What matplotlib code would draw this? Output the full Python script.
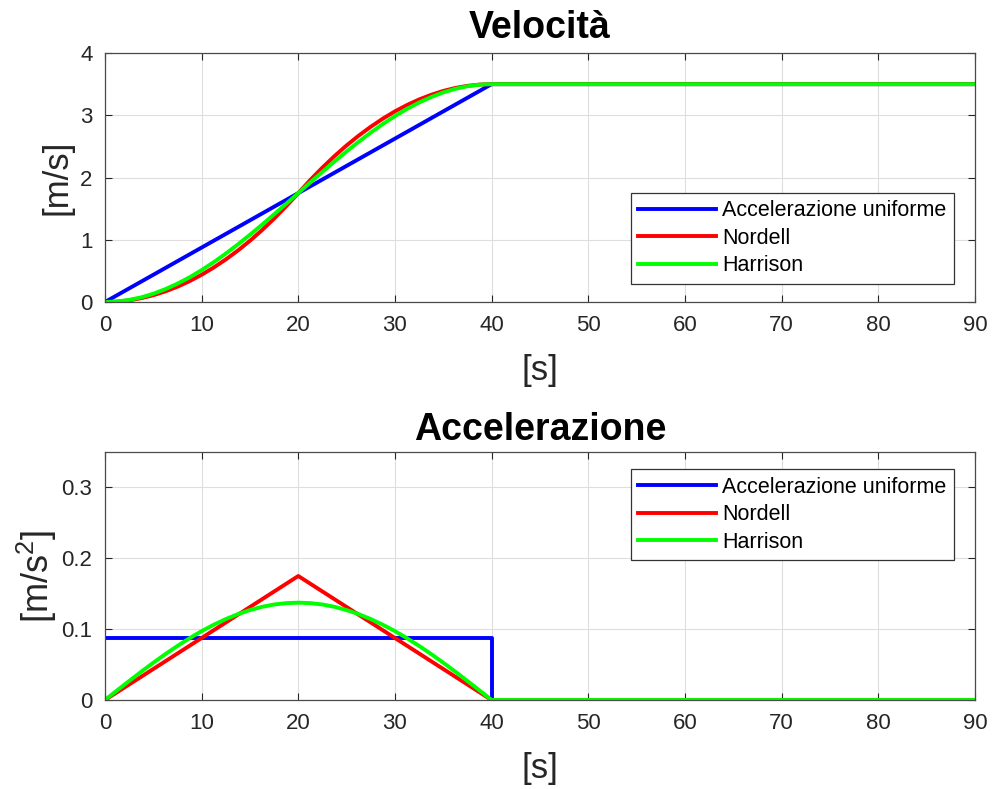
"""Velocità e accelerazione: accelerazione uniforme, Nordell, Harrison"""

import matplotlib.pyplot as plt

plt.rcParams['font.family'] = ['Liberation Sans', 'DejaVu Sans']
plt.rcParams['mathtext.fontset'] = 'custom'
plt.rcParams['mathtext.rm'] = 'Liberation Sans'
plt.rcParams['mathtext.it'] = 'Liberation Sans'

# tempi [s] (campionati sul grafico ogni 1.25 s fino a 40, poi costante)
t_curve = [0, 1.25, 2.5, 3.75, 5, 6.25, 7.5, 8.75, 10, 11.25, 12.5, 13.75,
           15, 16.25, 17.5, 18.75, 20, 21.25, 22.5, 23.75, 25, 26.25, 27.5,
           28.75, 30, 31.25, 32.5, 33.75, 35, 36.25, 37.5, 38.75, 40, 90]

# velocità [m/s]
t_unif_v = [0, 40, 90]
v_unif = [0, 3.5, 3.5]
v_nordell = [0, 0.007, 0.027, 0.062, 0.109, 0.171, 0.246, 0.335, 0.438,
             0.554, 0.684, 0.827, 0.984, 1.155, 1.340, 1.538, 1.75,
             1.962, 2.160, 2.345, 2.516, 2.673, 2.816, 2.946, 3.063,
             3.165, 3.254, 3.329, 3.391, 3.439, 3.473, 3.493, 3.5, 3.5]
v_harrison = [0, 0.008, 0.034, 0.075, 0.133, 0.207, 0.295, 0.397, 0.513,
              0.640, 0.778, 0.925, 1.080, 1.242, 1.409, 1.579, 1.75,
              1.922, 2.091, 2.258, 2.420, 2.575, 2.722, 2.860, 2.987,
              3.103, 3.205, 3.293, 3.367, 3.425, 3.466, 3.492, 3.5, 3.5]

# accelerazione [m/s^2]
t_unif_a = [0, 40, 40, 90]
a_unif = [0.0875, 0.0875, 0, 0]
t_nordell_a = [0, 20, 40, 90]
a_nordell = [0, 0.175, 0, 0]
a_harrison = [0, 0.0135, 0.0268, 0.0399, 0.0526, 0.0648, 0.0763, 0.0872,
              0.0972, 0.1062, 0.1142, 0.1212, 0.1269, 0.1315, 0.1348,
              0.1367, 0.1374, 0.1367, 0.1348, 0.1315, 0.1269, 0.1212,
              0.1142, 0.1062, 0.0972, 0.0872, 0.0763, 0.0648, 0.0526,
              0.0399, 0.0268, 0.0135, 0, 0]

legenda = ['Accelerazione uniforme', 'Nordell', 'Harrison']
x_ticks = list(range(0, 91, 10))

AX_COL = '#262626'
LW = 2.8


def stile_assi(ax):
    ax.set_xlim(0, 90)
    ax.set_xticks(x_ticks)
    ax.grid(True, color='#dedede', linewidth=0.8)
    ax.set_axisbelow(True)
    ax.tick_params(direction='in', length=5, width=0.8, top=True, right=True,
                   labelsize=16, colors=AX_COL, pad=9)
    for sp in ax.spines.values():
        sp.set_color('#4a4a4a')
        sp.set_linewidth(0.9)
    ax.set_xlabel('[s]', fontsize=25, color=AX_COL, labelpad=13)


def legenda_assi(ax, y_top):
    leg = ax.legend(loc='upper right', bbox_to_anchor=(0.976, y_top),
                    borderaxespad=0, fontsize=15.5, handlelength=3.6,
                    handletextpad=0.3, labelspacing=0.3, borderpad=0.35,
                    fancybox=False, framealpha=1, edgecolor='#333333')
    leg.get_frame().set_linewidth(0.9)


fig = plt.figure(figsize=(9.92, 7.89), dpi=100)
ax1 = fig.add_axes([0.1058, 0.6172, 0.8770, 0.3156])
ax2 = fig.add_axes([0.1058, 0.1128, 0.8770, 0.3143])

ax1.plot(t_unif_v, v_unif, color=(0, 0, 1), lw=LW, label=legenda[0])
ax1.plot(t_curve, v_nordell, color=(1, 0, 0), lw=LW, label=legenda[1])
ax1.plot(t_curve, v_harrison, color=(0, 1, 0), lw=LW, label=legenda[2])
stile_assi(ax1)
ax1.set_ylim(0, 4)
ax1.set_yticks([0, 1, 2, 3, 4])
ax1.set_ylabel('[m/s]', fontsize=25, color=AX_COL, labelpad=5)
ax1.set_title('Velocità', fontsize=27, fontweight='bold', pad=11)
legenda_assi(ax1, 0.438)

ax2.plot(t_unif_a, a_unif, color=(0, 0, 1), lw=LW, label=legenda[0])
ax2.plot(t_nordell_a, a_nordell, color=(1, 0, 0), lw=LW, label=legenda[1])
ax2.plot(t_curve, a_harrison, color=(0, 1, 0), lw=LW, label=legenda[2])
stile_assi(ax2)
ax2.set_ylim(0, 0.35)
ax2.set_yticks([0, 0.1, 0.2, 0.3])
ax2.set_yticklabels(['0', '0.1', '0.2', '0.3'])
ax2.set_ylabel(r'[m/s$^2$]', fontsize=26, color=AX_COL, labelpad=2)
ax2.set_title('Accelerazione', fontsize=27, fontweight='bold', pad=9)
legenda_assi(ax2, 0.931)

plt.savefig('out.png', dpi=100)
